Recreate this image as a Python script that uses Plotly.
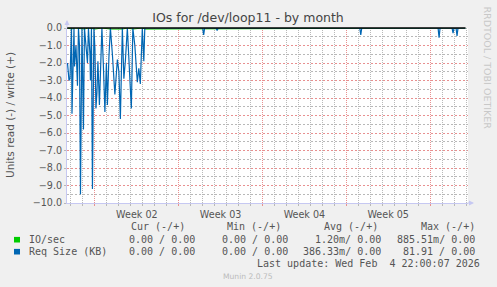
import pandas as pd
import plotly.graph_objects as go

# ---- data (hours relative to 2026-01-05 00:00, Monday of ISO week 02) ----
BASE = pd.Timestamp("2026-01-05 00:00")

req_hours = [-55, -52, -50, -47, -46, -44, -42, -41, -38, -35, -33, -31, -29, -26,
             -23, -21, -18, -15, -13, -10, -9, -7, -5, -2, 0, 2, 4, 6, 9, 11, 14,
             17, 20, 23, 25, 28, 31, 35, 40, 45, 48, 51, 55, 58, 61, 65, 69, 73,
             76, 80, 85, 88, 91, 95, 98, 100,
             216, 218, 220, 243, 245, 247, 531, 533, 535, 688, 690, 692,
             716, 718, 720, 724, 726, 728, 743]
req_read = [-2.0, -3.0, -2.9, 0.0, -4.9, -1.8, 0.0, -2.2, -1.0, -3.3, 0.0, -1.0,
            -9.5, 0.0, -5.8, 0.0, -1.0, -2.0, 0.0, -1.5, -3.0, 0.0, -9.2, 0.0,
            -1.2, -4.6, -3.7, -1.9, -4.4, -2.9, 0.0, -2.2, -4.8, -2.0, -4.4, -1.7,
            0.0, -1.5, -3.8, -1.8, -2.5, -5.2, 0.0, -2.9, -1.9, 0.0, -2.4, -4.6,
            0.0, -1.0, -3.1, -2.3, -3.2, 0.0, -1.9, 0.0,
            0.0, -0.4, 0.0, 0.0, -0.15, 0.0, 0.0, -0.4, 0.0, 0.0, -0.55, 0.0,
            0.0, -0.3, 0.0, 0.0, -0.45, 0.0, 0.0]

io_hours = [-55, -47, -40, -21, -13, 0, 14, 31, 55, 65, 76, 95, 100, 743]
io_read = [0.0, -0.06, 0.0, -0.06, 0.0, -0.06, 0.0, -0.06, -0.06, 0.0, -0.06, 0.0, -0.06, 0.0]

last_hour = 743  # last update (hours from BASE)

legend_rows = [
    ("IO/sec", "#00cc00", ["0.00 / 0.00", "0.00 / 0.00", "1.20m/ 0.00", "885.51m/ 0.00"]),
    ("Req Size (KB)", "#0066b3", ["0.00 / 0.00", "0.00 / 0.00", "386.33m/ 0.00", "81.91 / 0.00"]),
]
headers = ["Cur (-/+)", "Min (-/+)", "Avg (-/+)", "Max (-/+)"]

# ---- geometry ----
W, H = 497, 287
L, R, T, B = 67, 29, 28, 84
PW, PH = W - L - R, H - T - B

def px(x):
    return (x - L) / PW

def py(y):
    return (H - B - y) / PH

to_t = lambda hs: [BASE + pd.Timedelta(hours=h) for h in hs]

fig = go.Figure()
fig.add_trace(go.Scatter(x=to_t(io_hours), y=io_read, mode="lines",
                         line=dict(color="#00cc00", width=1), hoverinfo="skip"))
fig.add_trace(go.Scatter(x=to_t(req_hours), y=req_read, mode="lines",
                         line=dict(color="#0066b3", width=1.2), hoverinfo="skip"))

RED = "#e89090"
GRAY = "#b8b8b8"
AX = "#c6c8f2"
TXT = "#555555"

fig.update_layout(
    width=W, height=H,
    margin=dict(l=L, r=R, t=T, b=B),
    paper_bgcolor="#f0f0f0", plot_bgcolor="#ffffff",
    showlegend=False,
    font=dict(family="DejaVu Sans", color=TXT, size=10),
    title=dict(text="IOs for /dev/loop11 - by month", x=248 / W, xanchor="center",
               xref="container", y=1 - 18 / H, yanchor="middle", yref="container",
               font=dict(size=12.5, color="#444444", family="DejaVu Sans")),
)

fig.update_xaxes(
    type="date",
    range=[BASE + pd.Timedelta(hours=-56), BASE + pd.Timedelta(hours=748)],
    tick0="2026-01-05", dtick=7 * 86400000, ticklabelmode="period",
    tickformat="Week %V", tickfont=dict(size=9.6, color=TXT),
    showgrid=True, gridcolor=RED, griddash="1px,1px", gridwidth=1,
    ticks="outside", ticklen=2, tickcolor=RED,
    minor=dict(dtick=86400000, showgrid=True, gridcolor=GRAY, griddash="1px,1px",
               gridwidth=1, ticks="outside", ticklen=2, tickcolor=GRAY),
    showline=True, linecolor=AX, linewidth=1, zeroline=False,
)
fig.update_yaxes(
    range=[-10, 0], tick0=0, dtick=1, tickformat=".1f",
    tickfont=dict(size=9.6, color=TXT),
    showgrid=True, gridcolor=RED, griddash="2px,2px", gridwidth=1,
    ticks="outside", ticklen=2, tickcolor=GRAY,
    minor=dict(dtick=0.5, tick0=0, showgrid=True, gridcolor=GRAY, griddash="2px,2px",
               gridwidth=1),
    showline=True, linecolor=AX, linewidth=1,
    zeroline=False,
)

ann = []
ann.append(dict(text="Units read (-) / write (+)", x=px(10), y=py(115), xref="paper", yref="paper",
                textangle=-90, showarrow=False, font=dict(size=10.5, color=TXT),
                xanchor="center", yanchor="middle"))
ann.append(dict(text="RRDTOOL / TOBI OETIKER", x=px(487), y=py(4), xref="paper", yref="paper",
                textangle=90, showarrow=False, font=dict(size=9.5, color="#c8c8c8"),
                xanchor="center", yanchor="top"))
MONO = "DejaVu Sans Mono"
hdr_right = [187, 283, 380, 477]
val_right = [197, 290, 383, 477]
for h, xr in zip(headers, hdr_right):
    ann.append(dict(text=h, x=px(xr), y=py(226.7), xref="paper", yref="paper", showarrow=False,
                    xanchor="right", yanchor="middle", font=dict(family=MONO, size=10, color=TXT)))
shapes = []
for i, (name, col, vals) in enumerate(legend_rows):
    yc = 239.7 + 12 * i
    ann.append(dict(text=name, x=px(26.5), y=py(yc), xref="paper", yref="paper", showarrow=False,
                    xanchor="left", yanchor="middle", font=dict(family=MONO, size=10, color=TXT)))
    shapes.append(dict(type="rect", xref="paper", yref="paper", x0=px(14), x1=px(20),
                       y0=py(yc - 2.8), y1=py(yc + 2.8), fillcolor=col, line=dict(width=0)))
    for v, xr in zip(vals, val_right):
        ann.append(dict(text=v, x=px(xr), y=py(yc), xref="paper", yref="paper", showarrow=False,
                        xanchor="right", yanchor="middle", font=dict(family=MONO, size=10, color=TXT)))
ann.append(dict(text="Last update: Wed Feb  4 22:00:07 2026".replace("  ", "&nbsp; "),
                x=px(482), y=py(263.3), xref="paper", yref="paper",
                showarrow=False, xanchor="right", yanchor="middle",
                font=dict(family=MONO, size=10, color=TXT)))
ann.append(dict(text="Munin 2.0.75", x=px(248), y=py(276), xref="paper", yref="paper", showarrow=False,
                xanchor="center", yanchor="middle", font=dict(size=7.6, color="#bbbbbb")))
ann.append(dict(x=px(67), y=py(20), ax=0, ay=9, xref="paper", yref="paper", text="",
                showarrow=True, arrowhead=2, arrowsize=1, arrowwidth=1, arrowcolor=AX))
ann.append(dict(x=px(474), y=py(203), ax=-8, ay=0, xref="paper", yref="paper", text="",
                showarrow=True, arrowhead=2, arrowsize=1, arrowwidth=1, arrowcolor=AX))

# black zero rule (top edge of the plot) drawn above the data, up to the last update
shapes.append(dict(type="line", layer="above", xref="x", yref="paper",
                   x0=BASE + pd.Timedelta(hours=-56), x1=BASE + pd.Timedelta(hours=last_hour),
                   y0=1, y1=1, line=dict(color="#000000", width=1.5)))
fig.update_layout(annotations=ann, shapes=shapes)

fig.write_html("out.html")
